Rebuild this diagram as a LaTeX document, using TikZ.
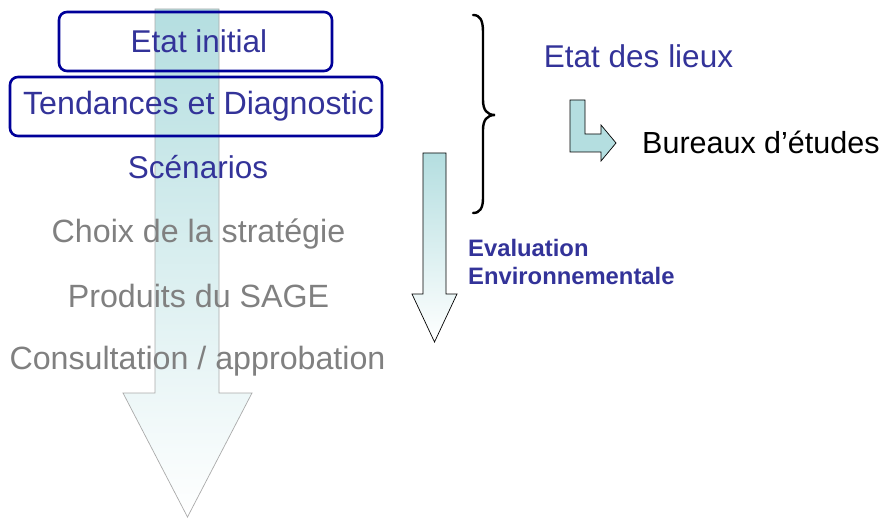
\documentclass[tikz,border=0pt]{standalone}
\usepackage{fontspec}
\setmainfont{Liberation Sans}
\definecolor{txtblue}{RGB}{51,51,153}
\definecolor{boxblue}{RGB}{0,0,153}
\definecolor{txtgrey}{RGB}{128,128,128}
\definecolor{tealfill}{RGB}{180,222,224}
\definecolor{arrgrey}{RGB}{170,170,170}
\begin{document}
\begin{tikzpicture}[x=1pt,y=-1pt,
  bigtxt/.style={inner sep=0pt,anchor=base,font=\fontsize{31.5}{38}\selectfont},
  widetxt/.style={inner sep=0pt,anchor=base,font=\fontsize{32.2}{38}\selectfont},
  bluetxt/.style={bigtxt,text=txtblue},
  greytxt/.style={widetxt,text=txtgrey},
  stagebox/.style={draw=boxblue,line width=2.6pt,rounded corners=8pt,inner sep=0pt},
  evaltxt/.style={inner sep=0pt,anchor=base west,text=txtblue,font=\fontsize{23.8}{28}\selectfont\bfseries}]
\useasboundingbox (0,0) rectangle (893,518);
% big background arrow
\shade[top color=tealfill,bottom color=white,draw=arrgrey,line width=0.7pt]
  (155,9) -- (219,9) -- (219,393) -- (252,393) -- (187.5,517) -- (123,393) -- (155,393) -- cycle;
% boxes
\node[stagebox,minimum width=273pt,minimum height=59pt] (box1) at (195.5,41.5) {};
\node[stagebox,minimum width=372pt,minimum height=59pt] (box2) at (196,106.5) {};
% stage texts
\node[bluetxt] (s1) at (199,53) {Etat initial};
\node[widetxt,text=txtblue] (s2) at (198.5,115) {Tendances et Diagnostic};
\node[bluetxt] (s3) at (198,179) {Scénarios};
\node[greytxt] (s4) at (198.5,243) {Choix de la stratégie};
\node[greytxt] (s5) at (198.5,307) {Produits du SAGE};
\node[greytxt] (s6) at (197.5,369) {Consultation / approbation};
% brace
\draw[line width=2.4pt,line cap=round] (473,15) .. controls (480,15) and (483,20) .. (483,32) -- (483,100)
  .. controls (483,110) and (487,115) .. (495,115)
  .. controls (487,115) and (483,120) .. (483,130) -- (483,198)
  .. controls (483,208) and (480,213) .. (473,213);
% evaluation arrow
\shade[top color=tealfill,bottom color=white,draw=black,line width=0.7pt]
  (423,153) -- (446,153) -- (446,294) -- (457,294) -- (434.5,342) -- (412,294) -- (423,294) -- cycle;
\node[evaltxt] (ev1) at (468,257) {Evaluation};
\node[evaltxt] (ev2) at (468,285) {Environnementale};
% right side
\node[bluetxt] (edl) at (638.5,68) {Etat des lieux};
\filldraw[fill=tealfill,draw=black,line width=0.7pt]
  (570,100) -- (585,100) -- (585,134) -- (601,134) -- (601,125) -- (616,143) -- (601,161) -- (601,152) -- (570,152) -- cycle;
\node[inner sep=0pt,anchor=base west,font=\fontsize{30.5}{36}\selectfont] (be) at (642,154) {Bureaux d’études};
\end{tikzpicture}
\end{document}
